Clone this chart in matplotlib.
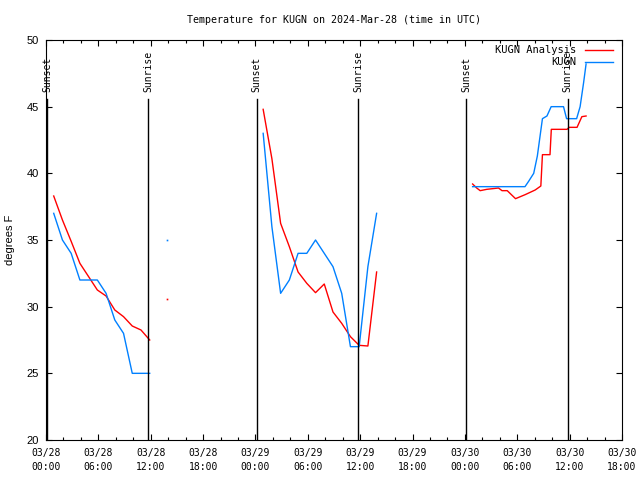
import numpy as np
import pandas as pd
import matplotlib
matplotlib.use("Agg")
import matplotlib.pyplot as plt
import matplotlib.dates as mdates

# observed temperature (blue); None marks a gap in the record
obs_times = ["03-28 00:53", "03-28 01:53", "03-28 02:53", "03-28 03:53", "03-28 04:53", "03-28 05:53",
             "03-28 06:53", "03-28 07:53", "03-28 08:53", "03-28 09:53", "03-28 10:53", "03-28 11:53",
             "03-28 12:53", "03-28 13:53", "03-28 14:53",
             "03-29 00:53", "03-29 01:53", "03-29 02:53", "03-29 03:53", "03-29 04:53", "03-29 05:53",
             "03-29 06:53", "03-29 07:53", "03-29 08:53", "03-29 09:53", "03-29 10:53", "03-29 11:53",
             "03-29 12:53", "03-29 13:53", "03-29 14:53",
             "03-30 00:53", "03-30 01:53", "03-30 02:53", "03-30 03:53", "03-30 04:53", "03-30 05:53",
             "03-30 06:53", "03-30 07:18", "03-30 07:53", "03-30 08:18", "03-30 08:53", "03-30 09:24",
             "03-30 09:53", "03-30 11:18", "03-30 11:39", "03-30 12:48", "03-30 13:12", "03-30 13:36",
             "03-30 13:53"]
obs_temp = [37, 35, 34, 32, 32, 32, 31, 29, 28, 25, 25, 25,
            None, 35, None,
            43, 36, 31, 32, 34, 34, 35, 34, 33, 31, 27, 27, 33, 37,
            None,
            39, 39, 39, 39, 39, 39, 39, 39.4, 40, 41.3, 44.1, 44.3,
            45, 45, 44.1, 44.1, 45, 46.8, 48.2]

# analysis temperature (red)
ana_times = ["03-28 00:53", "03-28 01:53", "03-28 02:53", "03-28 03:53", "03-28 04:53", "03-28 05:53",
             "03-28 06:53", "03-28 07:53", "03-28 08:53", "03-28 09:53", "03-28 10:53", "03-28 11:53",
             "03-28 12:53", "03-28 13:53", "03-28 14:53",
             "03-29 00:53", "03-29 01:53", "03-29 02:53", "03-29 03:53", "03-29 04:53", "03-29 05:53",
             "03-29 06:53", "03-29 07:53", "03-29 08:53", "03-29 09:53", "03-29 10:53", "03-29 11:53",
             "03-29 12:53", "03-29 13:53", "03-29 14:53",
             "03-30 00:53", "03-30 01:21", "03-30 01:45", "03-30 02:30", "03-30 03:51", "03-30 04:15",
             "03-30 04:51", "03-30 05:48", "03-30 06:54", "03-30 08:03", "03-30 08:42", "03-30 08:53",
             "03-30 09:45", "03-30 09:54", "03-30 11:42", "03-30 11:57", "03-30 12:51", "03-30 13:24",
             "03-30 13:53"]
ana_temp = [38.3, 36.5, 34.9, 33.25, 32.25, 31.25, 30.8, 29.75, 29.25, 28.55, 28.25, 27.5,
            None, 30.55, None,
            44.8, 41.1, 36.25, 34.5, 32.6, 31.75, 31.05, 31.7, 29.6, 28.75, 27.75, 27.1, 27.05, 32.6,
            None,
            39.2, 38.9, 38.7, 38.8, 38.9, 38.7, 38.7, 38.1, 38.4, 38.75, 39.05, 41.4,
            41.4, 43.3, 43.3, 43.45, 43.45, 44.25, 44.3]

sun_times = ["03-28 00:07", "03-28 11:44", "03-29 00:08", "03-29 11:47", "03-30 00:09", "03-30 11:47"]
sun_labels = ["Sunset", "Sunrise", "Sunset", "Sunrise", "Sunset", "Sunrise"]

RED = "#ff0000"
BLUE = "#0080ff"
MONO = "DejaVu Sans Mono"
SANS = "Liberation Sans"


def to_dt(ts):
    return pd.to_datetime(["2024-" + t for t in ts])


def draw(ax, ts, vals, color):
    t = to_dt(ts)
    v = np.array([np.nan if x is None else x for x in vals], dtype=float)
    ax.plot(t, v, color=color, lw=1.0)
    # points with gaps on both sides show as single dots
    fin = np.isfinite(v)
    prev = np.r_[False, fin[:-1]]
    nxt = np.r_[fin[1:], False]
    lone = fin & ~prev & ~nxt
    ax.plot(t[lone], v[lone], ls="none", marker="s", ms=1.2, mew=0, color=color)


fig = plt.figure(figsize=(6.4, 4.8), dpi=100)
ax = fig.add_axes([46 / 640, 40 / 480, 576 / 640, 400 / 480])

draw(ax, ana_times, ana_temp, RED)
draw(ax, obs_times, obs_temp, BLUE)

for t, lab in zip(to_dt(sun_times), sun_labels):
    ax.plot([t, t], [20, 45.55], color="black", lw=1.0)
    ax.text(t, 46.1, lab, rotation=90, ha="center", va="bottom", fontsize=7, family=MONO)

ax.set_xlim(pd.Timestamp("2024-03-28 00:00"), pd.Timestamp("2024-03-30 18:00"))
ax.set_ylim(20, 50)
ax.xaxis.set_major_locator(mdates.HourLocator(byhour=[0, 6, 12, 18]))
ax.xaxis.set_minor_locator(mdates.HourLocator(byhour=range(0, 24, 2)))
ax.xaxis.set_major_formatter(mdates.DateFormatter("%m/%d\n%H:%M"))
ax.set_yticks([20, 25, 30, 35, 40, 45, 50])
ax.tick_params(which="both", direction="in", top=True, right=True, width=0.8, color="black")
ax.tick_params(which="major", length=4.5)
ax.tick_params(which="minor", length=2.5)
ax.tick_params(axis="x", which="major", pad=6, labelsize=7)
ax.tick_params(axis="y", pad=5, labelsize=8)
for lab in ax.get_xticklabels():
    lab.set_family(MONO)
    lab.set_linespacing(1.5)
for lab in ax.get_yticklabels():
    lab.set_family(SANS)
for s in ax.spines.values():
    s.set_linewidth(0.8)

# legend, gnuplot style: right-aligned keys with line samples on the right
for y, lab, c in [(0.975, "KUGN Analysis", RED), (0.945, "KUGN", BLUE)]:
    ax.text(0.921, y, lab, transform=ax.transAxes, ha="right", va="center", fontsize=7.5, family=MONO)
    ax.plot([0.935, 0.984], [y, y], transform=ax.transAxes, color=c, lw=1.0)

fig.text(334 / 640, 1 - 20 / 480, "Temperature for KUGN on 2024-Mar-28 (time in UTC)",
         ha="center", va="center", fontsize=7.2, family=MONO)
fig.text(10 / 640, 0.5, "degrees F", rotation=90, ha="center", va="center", fontsize=8, family=SANS)

fig.savefig("out.png", dpi=100)
